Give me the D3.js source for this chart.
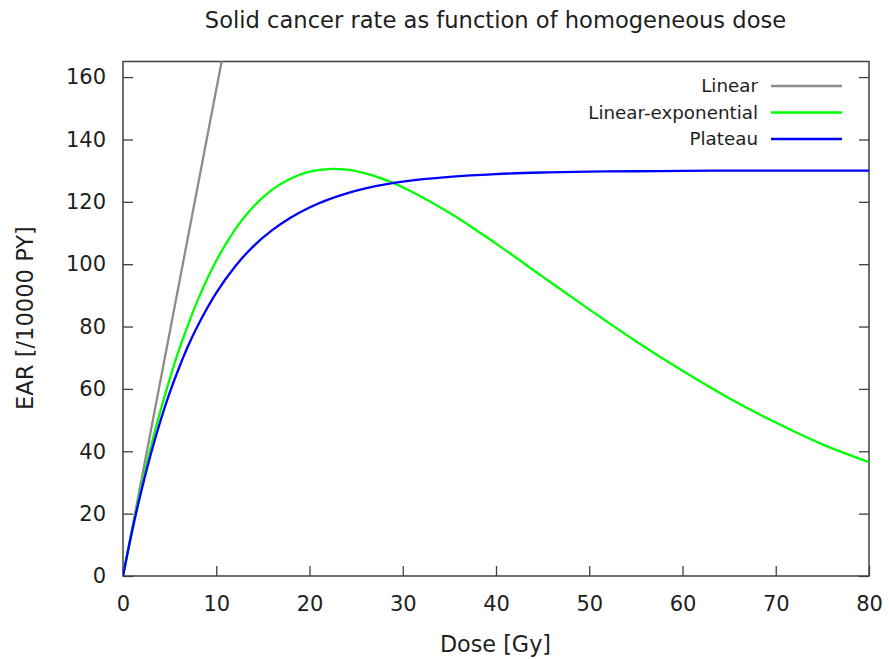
<!DOCTYPE html>
<html>
<head>
<meta charset="utf-8">
<script src="https://cdn.jsdelivr.net/npm/d3@7"></script>
<style>
  html, body { margin: 0; padding: 0; background: #fff; }
  svg { display: block; font-family: "DejaVu Sans", sans-serif; }
</style>
</head>
<body>
<svg id="chart" width="889" height="659"></svg>
<script>
// Dose grid in Gy and excess absolute rate per 10000 person-years for each model
const doseLinear = [0, 12];
const earLinear = [0, 187.2];

const doseCurve = [0, 1, 2, 3, 4, 5, 6, 7, 8, 10, 12, 14, 16, 18, 20, 22, 24, 26, 28, 30,
                   35, 40, 45, 50, 55, 60, 65, 70, 75, 80];
const earLinExp = [0, 15.1, 28.9, 41.5, 52.8, 63.1, 72.5, 80.7, 88.4, 101.1, 111.0, 118.5,
                   123.9, 127.5, 129.7, 130.5, 130.3, 129.1, 127.2, 124.7,
                   116.5, 106.6, 96.0, 85.5, 75.3, 65.8, 57.0, 49.2, 42.2, 36.5];
const earPlateau = [0, 14.7, 27.7, 39.3, 49.6, 58.7, 66.7, 73.9, 80.2, 90.8, 99.2, 105.8,
                    110.9, 115.0, 118.2, 120.7, 122.7, 124.3, 125.5, 126.5,
                    128.0, 128.9, 129.4, 129.7, 129.8, 129.9, 130.0, 130.0, 130.0, 130.0];

const seriesNames = ["Linear", "Linear-exponential", "Plateau"];
const seriesColors = ["#8c8c8c", "#00ff00", "#0000ff"];

const xTicks = [0, 10, 20, 30, 40, 50, 60, 70, 80];
const yTicks = [0, 20, 40, 60, 80, 100, 120, 140, 160];

const titleText = "Solid cancer rate as function of homogeneous dose";
const xLabel = "Dose [Gy]";
const yLabel = "EAR [/10000 PY]";

const svg = d3.select("#chart");
const margin = { left: 123, right: 20, top: 61.5, bottom: 83 };
const W = 889, H = 659;
const x = d3.scaleLinear().domain([0, 80]).range([margin.left, W - margin.right]);
const y = d3.scaleLinear().domain([0, 165]).range([H - margin.bottom, margin.top]);

const axisColor = "#404040";
const textColor = "#1e1e1e";

// clip region for curves
svg.append("defs").append("clipPath").attr("id", "plotClip")
  .append("rect")
  .attr("x", x(0)).attr("y", y(165))
  .attr("width", x(80) - x(0)).attr("height", y(0) - y(165));

// axes with inward ticks
const tickLen = 10;
const gx = svg.append("g").attr("transform", `translate(0,${y(0)})`)
  .call(d3.axisBottom(x).tickValues(xTicks).tickSize(-tickLen).tickPadding(tickLen + 10).tickFormat(d3.format("d")));
const gy = svg.append("g").attr("transform", `translate(${x(0)},0)`)
  .call(d3.axisLeft(y).tickValues(yTicks).tickSize(-tickLen).tickPadding(tickLen + 7).tickFormat(d3.format("d")));
const gyr = svg.append("g").attr("transform", `translate(${x(80)},0)`)
  .call(d3.axisRight(y).tickValues(yTicks).tickSize(-tickLen).tickFormat(""));

[gx, gy, gyr].forEach(g => {
  g.select(".domain").remove();
  g.selectAll(".tick line").attr("stroke", axisColor).attr("stroke-width", 1.3);
  g.selectAll(".tick text").attr("fill", textColor).attr("font-size", 21)
    .attr("font-family", "DejaVu Sans, sans-serif");
});

// plot frame
svg.append("rect")
  .attr("x", x(0)).attr("y", y(165))
  .attr("width", x(80) - x(0)).attr("height", y(0) - y(165))
  .attr("fill", "none").attr("stroke", axisColor).attr("stroke-width", 1.5);

// curves
const line = d3.line().x(d => x(d[0])).y(d => y(d[1]));
const seriesData = [
  d3.zip(doseLinear, earLinear),
  d3.zip(doseCurve, earLinExp),
  d3.zip(doseCurve, earPlateau)
];
const curveLine = d3.line().x(d => x(d[0])).y(d => y(d[1])).curve(d3.curveCatmullRom.alpha(0.5));
seriesData.forEach((data, i) => {
  svg.append("path")
    .datum(data)
    .attr("clip-path", "url(#plotClip)")
    .attr("fill", "none")
    .attr("stroke", seriesColors[i])
    .attr("stroke-width", 2.3)
    .attr("d", i === 0 ? line : curveLine);
});

// legend
const legend = svg.append("g");
seriesNames.forEach((name, i) => {
  const ly = 86 + i * 26.5;
  legend.append("text")
    .attr("x", 758).attr("y", ly).attr("dy", "0.35em")
    .attr("text-anchor", "end").attr("font-size", 18.3).attr("fill", textColor)
    .text(name);
  legend.append("line")
    .attr("x1", 771).attr("x2", 842).attr("y1", ly).attr("y2", ly)
    .attr("stroke", seriesColors[i]).attr("stroke-width", 2.3);
});

// title and axis labels
svg.append("text")
  .attr("x", 495.5).attr("y", 20).attr("dy", "0.35em")
  .attr("text-anchor", "middle").attr("font-size", 22.6).attr("fill", textColor)
  .text(titleText);
svg.append("text")
  .attr("x", 495.5).attr("y", 644).attr("dy", "0.35em")
  .attr("text-anchor", "middle").attr("font-size", 22.3).attr("fill", textColor)
  .text(xLabel);
svg.append("text")
  .attr("transform", `translate(25,318) rotate(-90)`).attr("dy", "0.35em")
  .attr("text-anchor", "middle").attr("font-size", 22.6).attr("fill", textColor)
  .text(yLabel);
</script>
</body>
</html>
